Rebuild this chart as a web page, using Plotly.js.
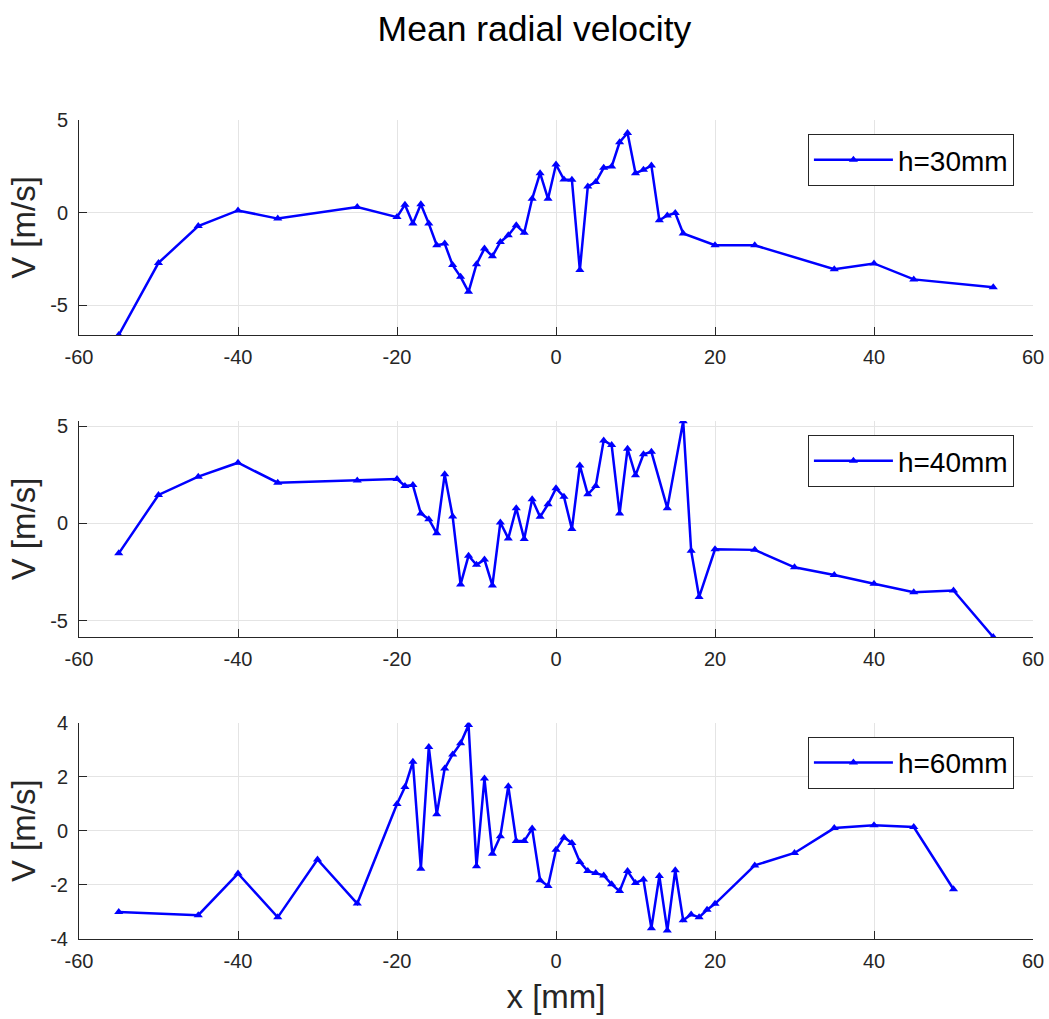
<!DOCTYPE html>
<html>
<head>
<meta charset="utf-8">
<script src="https://cdn.plot.ly/plotly-3.0.1.min.js"></script>
<style>html,body{margin:0;padding:0;background:#fff;}#chart{width:1049px;height:1019px;}</style>
</head>
<body>
<div id="chart"></div>
<script>
// ---- data ----
const x30 = [-55,-50,-45,-40,-35,-25,-20,-19,-18,-17,-16,-15,-14,-13,-12,-11,-10,-9,-8,-7,-6,-5,-4,-3,-2,-1,0,1,2,3,4,5,6,7,8,9,10,11,12,13,14,15,16,20,25,35,40,45,55];
const v30 = [-6.6,-2.71,-0.72,0.12,-0.32,0.3,-0.24,0.43,-0.59,0.45,-0.59,-1.76,-1.67,-2.83,-3.46,-4.27,-2.78,-1.94,-2.35,-1.58,-1.22,-0.68,-1.08,0.75,2.13,0.75,2.6,1.79,1.77,-3.1,1.41,1.65,2.42,2.49,3.8,4.3,2.13,2.31,2.54,-0.41,-0.15,-0.02,-1.12,-1.76,-1.76,-3.05,-2.74,-3.6,-4.03];

const x40 = [-55,-50,-45,-40,-35,-25,-20,-19,-18,-17,-16,-15,-14,-13,-12,-11,-10,-9,-8,-7,-6,-5,-4,-3,-2,-1,0,1,2,3,4,5,6,7,8,9,10,11,12,14,16,17,18,20,25,30,35,40,45,50,55];
const v40 = [-1.54,1.47,2.41,3.13,2.1,2.22,2.29,1.93,1.98,0.51,0.22,-0.51,2.53,0.36,-3.14,-1.66,-2.13,-1.86,-3.19,0.05,-0.77,0.79,-0.8,1.25,0.34,0.99,1.81,1.38,-0.29,2.99,1.5,1.93,4.28,4.04,0.51,3.85,2.48,3.56,3.69,0.79,5.27,-1.4,-3.79,-1.33,-1.36,-2.26,-2.65,-3.11,-3.54,-3.45,-5.85];

const x60 = [-55,-45,-40,-35,-30,-25,-20,-19,-18,-17,-16,-15,-14,-13,-12,-11,-10,-9,-8,-7,-6,-5,-4,-3,-2,-1,0,1,2,3,4,5,6,7,8,9,10,11,12,13,14,15,16,17,18,19,20,25,30,35,40,45,50];
const v60 = [-3.0,-3.12,-1.58,-3.2,-1.06,-2.69,0.99,1.62,2.55,-1.4,3.1,0.61,2.3,2.82,3.23,3.91,-1.31,1.93,-0.85,-0.2,1.65,-0.38,-0.38,0.08,-1.83,-2.04,-0.7,-0.25,-0.45,-1.15,-1.49,-1.56,-1.65,-1.98,-2.23,-1.49,-1.93,-1.8,-3.6,-1.67,-3.69,-1.46,-3.31,-3.09,-3.2,-2.92,-2.7,-1.28,-0.82,0.1,0.2,0.14,-2.16];

const seriesNames = ['h=30mm','h=40mm','h=60mm'];
const xTicks = [-60,-40,-20,0,20,40,60];
const yTicksTop = [-5,0,5];
const yTicksBottom = [-4,-2,0,2,4];

// ---- styling ----
const FONT = 'Liberation Sans, Arial, Helvetica, sans-serif';
const AX = '#262626';
const GRID = '#e4e4e4';
const BLUE = '#0000ff';

function trace(x, y, name, xa, ya, lg) {
  return {
    x: x, y: y, name: name, type: 'scatter', mode: 'lines+markers',
    xaxis: xa, yaxis: ya, legend: lg,
    line: {color: BLUE, width: 2.5},
    marker: {symbol: 'triangle-up', size: 8, color: BLUE}
  };
}

const data = [
  trace(x30, v30, seriesNames[0], 'x', 'y', 'legend'),
  trace(x40, v40, seriesNames[1], 'x2', 'y2', 'legend2'),
  trace(x60, v60, seriesNames[2], 'x3', 'y3', 'legend3')
];

function xax(anchor, withTitle) {
  const a = {
    anchor: anchor, domain: [0, 1], range: [-60, 60],
    tickvals: xTicks, ticktext: xTicks.map(String),
    showgrid: true, gridcolor: GRID, gridwidth: 1,
    zeroline: false, showline: true, linecolor: AX, linewidth: 1,
    ticks: 'inside', ticklen: 8, tickcolor: AX, tickwidth: 1,
    tickfont: {family: FONT, size: 20, color: AX},
    ticklabelstandoff: 4
  };
  if (withTitle) {
    a.title = {text: 'x [mm]', font: {family: FONT, size: 33, color: AX}, standoff: 13};
  }
  return a;
}
function yax(anchor, domain, range, ticks) {
  return {
    anchor: anchor, domain: domain, range: range,
    tickvals: ticks, ticktext: ticks.map(String),
    showgrid: true, gridcolor: GRID, gridwidth: 1,
    zeroline: false, showline: true, linecolor: AX, linewidth: 1,
    ticks: 'inside', ticklen: 8, tickcolor: AX, tickwidth: 1,
    tickfont: {family: FONT, size: 20, color: AX},
    ticklabelstandoff: 6,
    title: {text: 'V [m/s]', font: {family: FONT, size: 33, color: AX}, standoff: 4}
  };
}
function leg(ytop) {
  return {
    x: 0.98, xanchor: 'right', xref: 'paper',
    y: ytop, yanchor: 'top', yref: 'paper',
    bgcolor: '#ffffff', bordercolor: AX, borderwidth: 1,
    font: {family: FONT, size: 28, color: '#000000'},
    itemwidth: 79
  };
}

const layout = {
  width: 1049, height: 1019,
  paper_bgcolor: '#ffffff', plot_bgcolor: '#ffffff',
  margin: {l: 79, r: 16, t: 120, b: 80},
  showlegend: true,
  title: {
    text: 'Mean radial velocity',
    font: {family: FONT, size: 35.5, color: '#000000'},
    x: 0.5095, xref: 'container', xanchor: 'center',
    y: 0.9716, yref: 'container', yanchor: 'middle'
  },
  xaxis: xax('y', false),
  xaxis2: xax('y2', false),
  xaxis3: xax('y3', true),
  yaxis: yax('x', [0.7375, 1.0], [-6.6, 5.0], yTicksTop),
  yaxis2: yax('x2', [0.3687, 0.6325], [-5.85, 5.28], yTicksTop),
  yaxis3: yax('x3', [0.0, 0.2643], [-4, 4], yTicksBottom),
  legend: leg(0.9829),
  legend2: leg(0.6154),
  legend3: leg(0.247)
};

Plotly.newPlot('chart', data, layout, {displayModeBar: false, staticPlot: true});
</script>
</body>
</html>
